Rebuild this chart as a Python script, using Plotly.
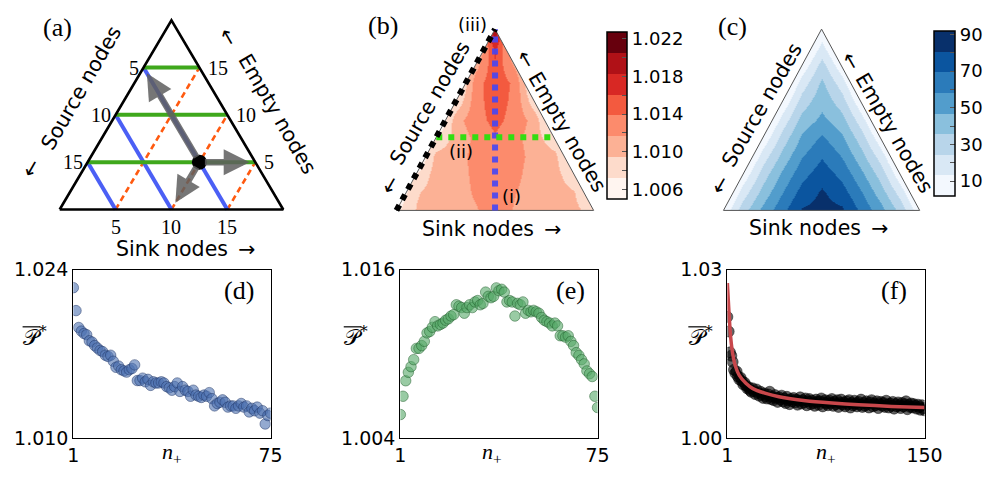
import math
import plotly.graph_objects as go

W, H = 1006, 480

# ------------------------------------------------------------------ data
# (a) schematic ternary diagram, N nodes, compositions given as (sink, empty)
N_NODES = 20
TICKS_A = [5, 10, 15]
DOT_SE = (10, 5)
ARROW_TIPS_SE = [(0.6, 14.4), (14.5, 5.0), (10.0, 0.7)]

# (b),(c) maps sampled on a grid (x across base, y from base to apex, both 0..1)
GRID_X = [0.0, 0.1, 0.2, 0.3, 0.4, 0.5, 0.6, 0.7, 0.8, 0.9, 1.0]
GRID_Y = [0.0, 0.1, 0.2, 0.3, 0.4, 0.5, 0.6, 0.7, 0.8, 0.9, 1.0]
P_GRID = [
    [1.0068, 1.0096, 1.0105, 1.0108, 1.0115, 1.0125, 1.0115, 1.0108, 1.0105, 1.0101, 1.0083],
    [1.0052, 1.0092, 1.0105, 1.0108, 1.0119, 1.0125, 1.0117, 1.0108, 1.0105, 1.0096, 1.0057],
    [1.0043, 1.0072, 1.0105, 1.0108, 1.0121, 1.0127, 1.0121, 1.0108, 1.0103, 1.0077, 1.0050],
    [1.0017, 1.0043, 1.0101, 1.0108, 1.0123, 1.0132, 1.0123, 1.0110, 1.0101, 1.0048, 1.0017],
    [1.0010, 1.0041, 1.0072, 1.0103, 1.0121, 1.0136, 1.0123, 1.0105, 1.0077, 1.0046, 1.0015],
    [0.9975, 1.0006, 1.0037, 1.0108, 1.0130, 1.0145, 1.0130, 1.0108, 1.0037, 1.0006, 0.9975],
    [0.9917, 0.9970, 1.0023, 1.0077, 1.0130, 1.0150, 1.0132, 1.0079, 1.0026, 0.9973, 0.9917],
    [0.9811, 0.9891, 0.9970, 1.0050, 1.0130, 1.0152, 1.0134, 1.0054, 0.9975, 0.9895, 0.9816],
    [0.9913, 0.9962, 1.0010, 1.0059, 1.0108, 1.0156, 1.0112, 1.0068, 1.0023, 0.9979, 0.9935],
    [0.9917, 0.9959, 1.0001, 1.0043, 1.0085, 1.0169, 1.0090, 1.0048, 1.0006, 0.9964, 0.9922],
    [0.9873, 0.9917, 0.9962, 1.0006, 1.0050, 1.0209, 1.0050, 1.0006, 0.9962, 0.9917, 0.9873],
]
P_RANGE = [1.0050, 1.0227]
P_CB_TICKS = [1.006, 1.008, 1.010, 1.012, 1.014, 1.016, 1.018, 1.020, 1.022]
P_CB_TEXT = ["1.006", "", "1.010", "", "1.014", "", "1.018", "", "1.022"]

C_GRID = [
    [5, 30.5, 50, 66.5, 81.5, 84.5, 82.5, 67, 51, 32, 5],
    [-8, 18.2, 39.5, 58, 73.5, 82, 74, 59, 40.5, 19.5, -8],
    [-21, 5, 29.8, 49.5, 65.5, 75.5, 66, 50, 30.5, 5.5, -21],
    [-34, -8, 18.2, 39.5, 57.2, 68.3, 57.5, 40, 18.8, -8, -34],
    [-47, -21, 5, 29.8, 48.9, 60, 49, 30.2, 5.2, -21, -47],
    [-60, -34, -8, 18.2, 39.5, 49.8, 39.8, 18.5, -8, -34, -60],
    [-73, -47, -21, 5, 29.8, 43.5, 30, 5, -21, -47, -73],
    [-86, -60, -34, -8, 18.2, 38, 18.4, -8, -34, -60, -86],
    [-99, -73, -47, -21, 5, 28.6, 5, -21, -47, -73, -99],
    [-112, -86, -60, -34, -8, 16.4, -8, -34, -60, -86, -112],
    [-125, -99, -73, -47, -21, 5, -21, -47, -73, -99, -125],
]
C_RANGE = [1.8, 91.8]
C_CB_TICKS = [10, 20, 30, 40, 50, 60, 70, 80, 90]
C_CB_TEXT = ["10", "", "30", "", "50", "", "70", "", "90"]

LINE_I_X = 0.5
LINE_II_Y = 0.404

# (d)
N_D = list(range(1, 76))
P_D = [1.0225, 1.0206, 1.0192, 1.0189, 1.0187, 1.0186, 1.0181, 1.0180, 1.0177, 1.0175,
       1.0173, 1.0172, 1.0169, 1.0168, 1.0169, 1.0164, 1.0159, 1.0160, 1.0157, 1.0156,
       1.0155, 1.0157, 1.0158, 1.0161, 1.0148, 1.0148, 1.0150, 1.0147, 1.0149, 1.0144,
       1.0147, 1.0146, 1.0146, 1.0147, 1.0146, 1.0143, 1.0142, 1.0140, 1.0143, 1.0146,
       1.0139, 1.0143, 1.0140, 1.0139, 1.0135, 1.0140, 1.0136, 1.0135, 1.0134, 1.0136,
       1.0135, 1.0138, 1.0133, 1.0127, 1.0129, 1.0130, 1.0132, 1.0130, 1.0126, 1.0127,
       1.0127, 1.0125, 1.0127, 1.0129, 1.0126, 1.0127, 1.0122, 1.0125, 1.0123, 1.0126,
       1.0121, 1.0123, 1.0112, 1.0119, 1.0121]
# (e)
N_E = list(range(1, 76))
P_E = [1.0057, 1.0070, 1.0081, 1.0087, 1.0091, 1.0096, 1.0104, 1.0104, 1.0106, 1.0109,
       1.0115, 1.0116, 1.0119, 1.0123, 1.0120, 1.0121, 1.0122, 1.0124, 1.0125, 1.0127,
       1.0128, 1.0135, 1.0134, 1.0133, 1.0129, 1.0133, 1.0135, 1.0133, 1.0137, 1.0138,
       1.0135, 1.0136, 1.0144, 1.0141, 1.0140, 1.0141, 1.0147, 1.0145, 1.0146, 1.0144,
       1.0137, 1.0138, 1.0137, 1.0127, 1.0136, 1.0135, 1.0137, 1.0129, 1.0131, 1.0130,
       1.0131, 1.0130, 1.0129, 1.0126, 1.0124, 1.0123, 1.0122, 1.0120, 1.0122, 1.0120,
       1.0113, 1.0113, 1.0112, 1.0113, 1.0109, 1.0106, 1.0101, 1.0099, 1.0096, 1.0093,
       1.0088, 1.0086, 1.0084, 1.0070, 1.0062]
# (f)
N_F = list(range(1, 151))
P_F = [1.0216, 1.0190, 1.0153, 1.0147, 1.0136, 1.0122, 1.0116, 1.0119, 1.0110, 1.0105,
       1.0108, 1.0102, 1.0096, 1.0099, 1.0094, 1.0089, 1.0091, 1.0086, 1.0083, 1.0089,
       1.0084, 1.0079, 1.0087, 1.0081, 1.0076, 1.0083, 1.0078, 1.0072, 1.0080, 1.0075,
       1.0071, 1.0078, 1.0083, 1.0070, 1.0074, 1.0068, 1.0077, 1.0072, 1.0065, 1.0073,
       1.0069, 1.0076, 1.0066, 1.0071, 1.0063, 1.0074, 1.0068, 1.0061, 1.0070, 1.0066,
       1.0072, 1.0064, 1.0069, 1.0060, 1.0067, 1.0073, 1.0062, 1.0068, 1.0064, 1.0071,
       1.0059, 1.0066, 1.0070, 1.0061, 1.0067, 1.0063, 1.0058, 1.0069, 1.0065, 1.0060,
       1.0066, 1.0071, 1.0057, 1.0064, 1.0068, 1.0062, 1.0059, 1.0067, 1.0063, 1.0070,
       1.0058, 1.0065, 1.0061, 1.0068, 1.0056, 1.0063, 1.0069, 1.0060, 1.0064, 1.0057,
       1.0066, 1.0061, 1.0068, 1.0055, 1.0063, 1.0059, 1.0067, 1.0062, 1.0057, 1.0065,
       1.0060, 1.0069, 1.0056, 1.0063, 1.0058, 1.0066, 1.0061, 1.0055, 1.0064, 1.0068,
       1.0057, 1.0062, 1.0059, 1.0066, 1.0054, 1.0061, 1.0065, 1.0058, 1.0063, 1.0056,
       1.0067, 1.0060, 1.0055, 1.0062, 1.0058, 1.0065, 1.0053, 1.0061, 1.0057, 1.0064,
       1.0059, 1.0054, 1.0063, 1.0057, 1.0061, 1.0066, 1.0052, 1.0060, 1.0056, 1.0062,
       1.0055, 1.0061, 1.0058, 1.0053, 1.0060, 1.0056, 1.0051, 1.0059, 1.0054, 1.0050]
FIT_N = [1, 2, 3, 4, 5, 7, 10, 15, 20, 30, 40, 60, 80, 100, 125, 150]
FIT_P = [1.0276, 1.0233, 1.0194, 1.0168, 1.0151, 1.0129, 1.0112, 1.0098, 1.0089,
         1.0080, 1.0074, 1.0067, 1.0063, 1.0060, 1.0057, 1.0055]

# ------------------------------------------------------------------ style
SERIF = "Liberation Serif"
SANS = "DejaVu Sans"
REDS8 = ['#fff5f0', '#fddbcb', '#fcb195', '#fc8b6c', '#f35a3f', '#d82824', '#b01117', '#67000d']
BLUES8 = ['#f3f8fe', '#d9e8f5', '#b8d5ea', '#8ac0dd', '#529dcc', '#2b7bba', '#0b559f', '#08306b']
LBL = 20.5


def stepped(colors):
    n = len(colors)
    cs = []
    for i, c in enumerate(colors):
        cs.append([i / n, c])
        cs.append([(i + 1) / n, c])
    return cs


def xdom(p0, p1):
    return [p0 / W, p1 / W]


def ydom(top, bot):
    return [1 - bot / H, 1 - top / H]


def px(x):
    return x / W


def py(y):
    return 1 - y / H


fig = go.Figure()

# ------------------------------------------------------------------ panel (a)
SQ3 = math.sqrt(3) / 2


def tern_xy(s, e):
    return s + e / 2.0, e * SQ3


# pixel anchors for (a): base 55..284 at y=208
A_SC = 229.0 / N_NODES
A_X0, A_Y0 = 55.0, 208.0
a_xr = [(0 - A_X0) / A_SC, (330 - A_X0) / A_SC]
a_yr = [(A_Y0 - 250) / A_SC, (A_Y0 - 0) / A_SC]


def add_line(pts, color, width, dash='solid', axis=('x', 'y'), opacity=1.0):
    xs, ys = zip(*pts)
    fig.add_trace(go.Scatter(x=list(xs), y=list(ys), mode='lines',
                             line=dict(color=color, width=width, dash=dash),
                             opacity=opacity, xaxis=axis[0], yaxis=axis[1],
                             hoverinfo='skip', showlegend=False, cliponaxis=False))


# orange dashed: constant sink
for s in TICKS_A:
    add_line([tern_xy(s, 0), tern_xy(s, N_NODES - s)], '#ff5a10', 2.6, dash='6px,4px')
# blue: constant source
for r in TICKS_A:
    tot = N_NODES - r
    add_line([tern_xy(tot, 0), tern_xy(0, tot)], '#4b5ff5', 4)
# green: constant empty
for e in TICKS_A:
    add_line([tern_xy(0, e), tern_xy(N_NODES - e, e)], '#3fa81c', 4)
# outline
add_line([tern_xy(0, 0), tern_xy(N_NODES, 0), tern_xy(0, N_NODES), tern_xy(0, 0)], 'black', 2.6)

dx, dy = tern_xy(*DOT_SE)

annotations = []
for tip in ARROW_TIPS_SE:
    tx, ty = tern_xy(*tip)
    annotations.append(dict(x=tx, y=ty, ax=dx, ay=dy, xref='x', yref='y', axref='x', ayref='y',
                            text='', showarrow=True, arrowhead=2, arrowsize=0.8, arrowwidth=6.5,
                            arrowcolor='rgba(95,95,95,0.85)', startstandoff=4))

fig.add_trace(go.Scatter(x=[dx], y=[dy], mode='markers', marker=dict(color='black', size=15),
                         xaxis='x', yaxis='y', hoverinfo='skip', showlegend=False, cliponaxis=False))

for v in TICKS_A:
    lx, ly = tern_xy(0, N_NODES - v)
    annotations.append(dict(x=lx, y=ly, xref='x', yref='y', text=str(v), showarrow=False,
                            xanchor='right', yanchor='middle', xshift=-3,
                            font=dict(family=SERIF, size=20, color='black')))
    rx, ry = tern_xy(N_NODES - v, v)
    annotations.append(dict(x=rx, y=ry, xref='x', yref='y', text=str(v), showarrow=False,
                            xanchor='left', yanchor='middle', xshift=7,
                            font=dict(family=SERIF, size=20, color='black')))
    bx, by = tern_xy(v, 0)
    annotations.append(dict(x=bx, y=by, xref='x', yref='y', text=str(v), showarrow=False,
                            xanchor='center', yanchor='top', yshift=-5,
                            font=dict(family=SERIF, size=20, color='black')))

# ------------------------------------------------------------------ panels (b), (c)
def tri_panel(xa, ya, grid, rng, colors, cb):
    fig.add_trace(go.Heatmap(x=GRID_X, y=GRID_Y, z=grid, zmin=rng[0], zmax=rng[1],
                             zsmooth='best', colorscale=stepped(colors), xaxis=xa, yaxis=ya,
                             colorbar=cb, hoverinfo='skip'))
    m = 0.08
    mx = [-m, -m, 0.5, 0.5, 0.0, 1.0, 1 + m, 1 + m, -m, None,
          0.5, 1 + m, 1 + m, 1.0, 0.5, 0.5]
    my = [-m, 1 + m, 1 + m, 1.0, 0.0, 0.0, 0.0, -m, -m, None,
          1 + m, 1 + m, 0.0, 0.0, 1.0, 1 + m]
    fig.add_trace(go.Scatter(x=mx, y=my, mode='lines', fill='toself', fillcolor='white',
                             line=dict(width=0, color='white'), xaxis=xa, yaxis=ya,
                             hoverinfo='skip', showlegend=False))
    fig.add_trace(go.Scatter(x=[0, 1, 0.5, 0], y=[0, 0, 1, 0], mode='lines',
                             line=dict(color='#555555', width=1), xaxis=xa, yaxis=ya,
                             hoverinfo='skip', showlegend=False, cliponaxis=False))


cb_b = dict(x=616 / W, xanchor='left', xpad=0, ypad=0, thickness=20, lenmode='pixels', len=167,
            y=py(109.5), yanchor='middle', outlinewidth=1.5, outlinecolor='black',
            tickmode='array', tickvals=P_CB_TICKS, ticktext=P_CB_TEXT, ticks='inside',
            ticklen=5, tickcolor='#555', tickfont=dict(family=SANS, size=18, color='black'))
cb_c = dict(x=951 / W, xanchor='left', xpad=0, ypad=0, thickness=21, lenmode='pixels', len=165,
            y=py(107.5), yanchor='middle', outlinewidth=1.5, outlinecolor='black',
            tickmode='array', tickvals=C_CB_TICKS, ticktext=C_CB_TEXT, ticks='inside',
            ticklen=5, tickcolor='#555', tickfont=dict(family=SANS, size=18, color='black'))

tri_panel('x2', 'y2', P_GRID, P_RANGE, REDS8, cb_b)
# dotted guide lines in (b)
add_line([(LINE_I_X, 0), (LINE_I_X, 1)], 'rgba(70,70,245,0.9)', 6, dash='dot', axis=('x2', 'y2'))
add_line([(LINE_II_Y / 2, LINE_II_Y), (1 - LINE_II_Y / 2, LINE_II_Y)], '#33dd11', 6, dash='dot',
         axis=('x2', 'y2'))
add_line([(0, 0), (0.5, 1)], 'black', 6, dash='dot', axis=('x2', 'y2'))

tri_panel('x3', 'y3', C_GRID, C_RANGE, BLUES8, cb_c)

# ------------------------------------------------------------------ panels (d),(e),(f)
fig.add_trace(go.Scatter(x=N_D, y=P_D, mode='markers', xaxis='x4', yaxis='y4', showlegend=False,
                         marker=dict(size=10.5, color='rgba(76,114,176,0.6)',
                                     line=dict(color='rgba(30,50,100,0.6)', width=0.8))))
fig.add_trace(go.Scatter(x=N_E, y=P_E, mode='markers', xaxis='x5', yaxis='y5', showlegend=False,
                         marker=dict(size=10.5, color='rgba(85,168,104,0.6)',
                                     line=dict(color='rgba(30,90,40,0.6)', width=0.8))))
fig.add_trace(go.Scatter(x=N_F, y=P_F, mode='markers', xaxis='x6', yaxis='y6', showlegend=False,
                         marker=dict(size=11, color='rgba(0,0,0,0.6)',
                                     line=dict(color='rgba(0,0,0,0.6)', width=0.8))))
fig.add_trace(go.Scatter(x=FIT_N, y=FIT_P, mode='lines', xaxis='x6', yaxis='y6', showlegend=False,
                         line=dict(color='#c8474b', width=3.5, shape='spline', smoothing=0.6)))

# ------------------------------------------------------------------ layout
hidden = dict(visible=False, showgrid=False, zeroline=False, fixedrange=True)
framed = dict(showline=True, mirror=True, linecolor='black', linewidth=1.2, ticks='',
              showgrid=False, zeroline=False, tickfont=dict(family=SANS, size=19, color='black'))

bx_l, bx_r, b_y0, b_y1 = 400.0, 602.0, 209.0, 19.0
cx_l, cx_r = 735.0, 936.0
ext = 0.06


def tri_dom(xl, xr):
    sx = xr - xl
    return xdom(xl - ext * sx, xr + ext * sx)


sy = b_y0 - b_y1
tri_ydom = ydom(b_y1 - ext * sy, b_y0 + ext * sy)

layout = dict(
    width=W, height=H, margin=dict(l=0, r=0, t=0, b=0), paper_bgcolor='white',
    plot_bgcolor='rgba(0,0,0,0)', showlegend=False,
    xaxis=dict(domain=xdom(0, 330), range=a_xr, anchor='y', **hidden),
    yaxis=dict(domain=ydom(0, 250), range=a_yr, anchor='x', **hidden),
    xaxis2=dict(domain=tri_dom(bx_l, bx_r), range=[-ext, 1 + ext], anchor='y2', **hidden),
    yaxis2=dict(domain=tri_ydom, range=[-ext, 1 + ext], anchor='x2', **hidden),
    xaxis3=dict(domain=tri_dom(cx_l, cx_r), range=[-ext, 1 + ext], anchor='y3', **hidden),
    yaxis3=dict(domain=tri_ydom, range=[-ext, 1 + ext], anchor='x3', **hidden),
    xaxis4=dict(domain=xdom(69, 271), range=[1, 75], anchor='y4', tickvals=[1, 75], **framed),
    yaxis4=dict(domain=ydom(271, 448), range=[1.010, 1.024], anchor='x4',
                tickvals=[1.010, 1.024], ticktext=['1.010', '1.024'], **framed),
    xaxis5=dict(domain=xdom(404, 606), range=[1, 75], anchor='y5', tickvals=[1, 75], **framed),
    yaxis5=dict(domain=ydom(271, 448), range=[1.004, 1.016], anchor='x5',
                tickvals=[1.004, 1.016], ticktext=['1.004', '1.016'], **framed),
    xaxis6=dict(domain=xdom(739, 941), range=[1, 150], anchor='y6', tickvals=[1, 150], **framed),
    yaxis6=dict(domain=ydom(271, 448), range=[1.00, 1.03], anchor='x6',
                tickvals=[1.00, 1.03], ticktext=['1.00', '1.03'], **framed),
)


def ptext(x, y, text, size=19, family=SANS, angle=0, xanchor='center'):
    annotations.append(dict(x=px(x), y=py(y), xref='paper', yref='paper', text=text,
                            showarrow=False, textangle=angle, xanchor=xanchor, yanchor='middle',
                            font=dict(family=family, size=size, color='black')))


# panel letters
for lab, x, y in [('(a)', 53, 17), ('(b)', 386, 15), ('(c)', 744, 16),
                  ('(d)', 239, 293), ('(e)', 578, 293), ('(f)', 910, 293)]:
    ptext(x, y, lab, size=26, family=SERIF)

# ternary axis titles
for (sx_, sy_, ax_, ay_, ex_, ey_, eax, eay, kx, ky) in [
        (77, 81, 26, 165, 278, 108, 228, 27, 184, 249),
        (434, 96, 393, 182, 575, 127, 533, 50, 497, 228),
        (774, 98, 731, 182, 910, 128, 866, 52, 832, 227)]:
    ptext(sx_, sy_, 'Source nodes', size=LBL, angle=-60)
    ptext(ax_, ay_, '←', size=LBL, angle=-60)
    ptext(ex_, ey_, 'Empty nodes', size=LBL, angle=60)
    ptext(eax, eay, '←', size=LBL, angle=60)
    ptext(kx, ky, 'Sink nodes\u2002→', size=LBL)

# guide labels in (b)
ptext(478, 14, '(iii)', size=18)
ptext(466, 147, '(ii)', size=18)
ptext(518, 194, '(i)', size=18)

# bottom axis labels
for (lx, nx) in [(30, 170), (359, 498), (712, 840)]:
    ptext(lx, 341, '\U0001D4AB<sup>*</sup>', size=22, family='DejaVu Serif')
    ptext(nx, 463, '<i>n</i><sub>+</sub>', size=22, family=SERIF)

shapes = []
for lx in [30, 359, 712]:
    shapes.append(dict(type='line', xref='paper', yref='paper', x0=px(lx - 13), x1=px(lx + 5),
                       y0=py(331), y1=py(331), line=dict(color='black', width=1.2)))

layout['annotations'] = annotations
layout['shapes'] = shapes
fig.update_layout(**layout)
fig.write_html("out.html")
